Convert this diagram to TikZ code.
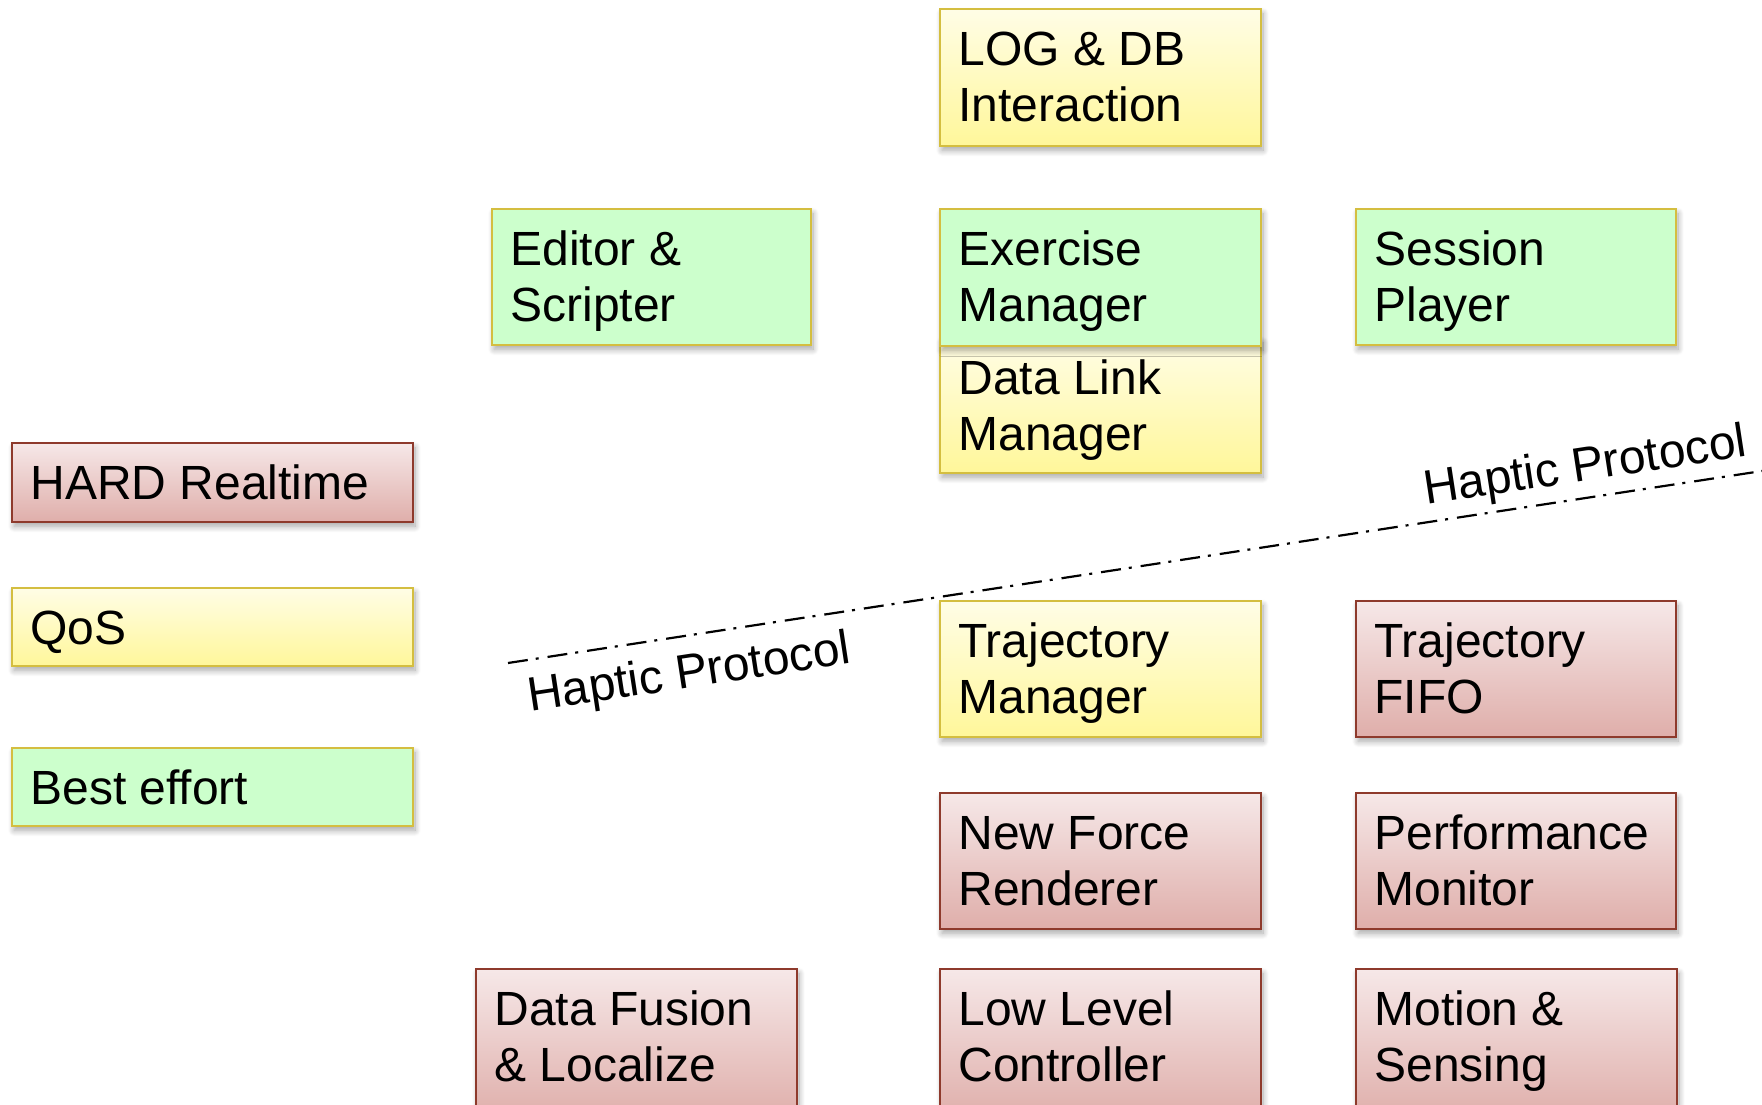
\documentclass[tikz,border=0pt]{standalone}
\usepackage{fontspec}
\setmainfont{Liberation Sans}
\usetikzlibrary{shadows.blur}

\definecolor{rtop}{HTML}{F6E8E8}
\definecolor{rbot}{HTML}{DFAEAA}
\definecolor{redge}{HTML}{8E3A2C}
\definecolor{ytop}{HTML}{FFFDE6}
\definecolor{ybot}{HTML}{FFF79A}
\definecolor{gold}{HTML}{D4BE40}
\definecolor{gfill}{HTML}{CCFFCC}

\tikzset{
  block/.style={rectangle, inner sep=0pt, outer sep=0pt, line width=1.4pt,
    blur shadow={shadow xshift=1pt, shadow yshift=-2.2pt,
      shadow blur radius=3pt, shadow blur steps=10, shadow opacity=35}},
  hardbox/.style={block, draw=redge, top color=rtop, bottom color=rbot},
  qosbox/.style={block, draw=gold, top color=ytop, bottom color=ybot},
  bestbox/.style={block, draw=gold, fill=gfill},
  lbl/.style={inner sep=0pt, font=\fontsize{24}{28.4}\selectfont},
  protocol/.style={line width=1.1pt, dash pattern=on 10pt off 4pt on 1.5pt off 4.5pt}
}

% style, name, x, y, width, height, text  (pixel units)
\newcommand\blk[7]{%
  \node[#1, anchor=north west, minimum width=#5*0.5pt, minimum height=#6*0.5pt] (#2) at (#3,#4) {};
  \node[lbl, anchor=base west] (#2-t) at ([shift={(18,56)}]#2.north west)
    {\begin{tabular}[t]{@{}l@{}}#7\end{tabular}};
}

\begin{document}
\begin{tikzpicture}[x=0.5pt, y=-0.5pt]
\useasboundingbox (0,0) rectangle (1762,1104);
\clip (0,0) rectangle (1762,1104);

% legend
\blk{hardbox}{hard}{12}{443}{401}{79}{HARD Realtime}
\blk{qosbox}{qos}{12}{588}{401}{78}{QoS}
\blk{bestbox}{best}{12}{748}{401}{78}{Best effort}

% upper layer
\blk{qosbox}{logdb}{940}{9}{321}{137}{LOG \& DB\\Interaction}
\blk{qosbox}{dlm}{940}{338}{321}{135}{Data Link\\Manager}
\blk{bestbox}{editor}{492}{209}{319}{136}{Editor \&\\Scripter}
\blk{bestbox}{exmgr}{940}{209}{321}{137}{Exercise\\Manager}
\blk{bestbox}{player}{1356}{209}{320}{136}{Session\\Player}

% protocol boundary
\coordinate (hp-a) at (508,663);
\coordinate (hp-b) at (1762,471);
\draw[protocol] (hp-a) -- (hp-b);
\node[lbl, rotate=8.7, anchor=base west] (hp-lo) at (530,712) {Haptic Protocol};
\node[lbl, rotate=8.7, anchor=base west] (hp-up) at (1426,505) {Haptic Protocol};

% lower layer
\blk{qosbox}{trajmgr}{940}{601}{321}{136}{Trajectory\\Manager}
\blk{hardbox}{fifo}{1356}{601}{320}{136}{Trajectory\\FIFO}
\blk{hardbox}{force}{940}{793}{321}{136}{New Force\\Renderer}
\blk{hardbox}{perf}{1356}{793}{320}{136}{Performance\\Monitor}
\blk{hardbox}{fusion}{476}{969}{321}{150}{Data Fusion\\\& Localize}
\blk{hardbox}{llc}{940}{969}{321}{150}{Low Level\\Controller}
\blk{hardbox}{motion}{1356}{969}{321}{150}{Motion \&\\Sensing}
\end{tikzpicture}
\end{document}
